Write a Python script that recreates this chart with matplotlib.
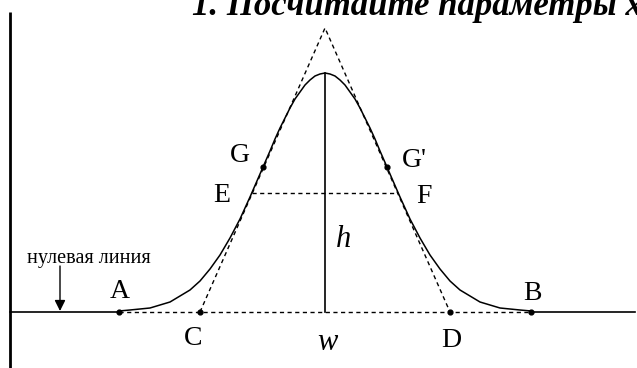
import matplotlib
matplotlib.use("Agg")
import matplotlib.pyplot as plt

# picture is drawn in pixel units of the original image (y grows downward)
baseline_y = 312
peak_x = 325
peak_top = 73
apex = (325, 28)

curve_x = [119, 130, 140, 150, 160, 170, 180, 190, 200, 210, 220, 230, 240, 250, 260, 263,
           270, 275, 280, 285, 290, 295, 300, 305, 310, 315, 320, 325,
           330, 335, 340, 345, 350, 355, 360, 365, 370, 375, 380, 387, 390, 400, 410,
           420, 430, 440, 450, 460, 470, 480, 490, 500, 510, 520, 531]
curve_y = [311, 310, 309, 308, 305, 302, 296, 290, 281, 269, 255, 238, 219, 197, 174, 167,
           151, 139, 128, 118, 108, 99, 92, 85, 80, 76, 74, 73,
           74, 76, 80, 85, 92, 99, 108, 118, 128, 139, 151, 167, 174, 197, 219,
           238, 255, 269, 281, 290, 296, 302, 305, 308, 309, 310, 311]

# named points
pt_names = ["A", "C", "D", "B", "G", "G'"]
pt_x = [119, 200, 450, 531, 263, 387]
pt_y = [312, 312, 312, 312, 167, 167]

# half-height line E-F
ef_x = [252, 398]
ef_y = [193, 193]

labels = ["A", "B", "C", "D", "G", "G'", "E", "F"]
label_x = [120, 532, 193, 451, 240, 414, 222, 424]
label_y = [298, 300, 345, 347, 162, 167, 202, 203]

title = "1. Посчитайте параметры хроматограммы"
zero_label = "нулевая линия"

fig = plt.figure(figsize=(6.37, 3.68), dpi=100)
ax = fig.add_axes([0, 0, 1, 1])
ax.set_xlim(0, 637)
ax.set_ylim(368, 0)
ax.axis("off")

dash = (0, (3, 2.5))
serif = "Liberation Serif"

# vertical axis
ax.plot([10, 10], [12, 368], color="black", lw=2.0, solid_capstyle="butt")

# baseline: solid outside the peak, dashed under it
ax.plot([10, pt_x[0]], [baseline_y, baseline_y], color="black", lw=1.2)
ax.plot([pt_x[3], 635], [baseline_y, baseline_y], color="black", lw=1.2)
ax.plot([pt_x[0], pt_x[3]], [baseline_y, baseline_y], color="black", lw=1.0, ls=dash)

# tangents through inflection points
ax.plot([pt_x[1], apex[0], pt_x[2]], [baseline_y, apex[1], baseline_y],
        color="black", lw=1.0, ls=dash)

# peak
ax.plot(curve_x, curve_y, color="black", lw=1.1)

# height line
ax.plot([peak_x, peak_x], [peak_top, baseline_y], color="black", lw=1.2)

# E-F
ax.plot(ef_x, ef_y, color="black", lw=1.0, ls=dash)

# dots
ax.scatter(pt_x, pt_y, s=12, color="black", zorder=3)

for t, x, y in zip(labels, label_x, label_y):
    ax.text(x, y, t, ha="center", va="baseline", fontsize=20, family=serif)

ax.text(344, 247, "h", ha="center", va="baseline", fontsize=22, family=serif, style="italic")
ax.text(327, 350, "w", ha="center", va="baseline", fontsize=22, family=serif, style="italic")

# zero line note with arrow
ax.text(89, 263, zero_label, ha="center", va="baseline", fontsize=14.5, family=serif)
ax.annotate("", xy=(60, 311), xytext=(60, 266),
            arrowprops=dict(arrowstyle="-|>", color="black", lw=1.0,
                            mutation_scale=16, shrinkA=0, shrinkB=0))

# title, cut off at the top edge
ax.text(192, 15, title, ha="left", va="baseline", fontsize=25, family=serif,
        weight="bold", style="italic", clip_on=False)

fig.savefig("out.png", dpi=100)
